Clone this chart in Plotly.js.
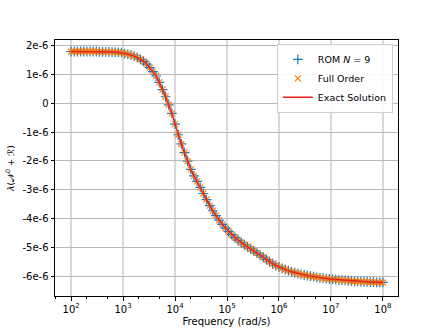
<!DOCTYPE html>
<html>
<head>
<meta charset="utf-8">
<script src="https://cdn.plot.ly/plotly-3.0.1.min.js"></script>
<style>
  html, body { margin: 0; padding: 0; background: #fff; }
  #chart { width: 443px; height: 332px; }
</style>
</head>
<body>
<div id="chart"></div>
<script>
// Frequency sweep, log10 of rad/s (100 samples, 10^2 .. 10^8)
const freqExponents = [
    2.000, 2.061, 2.121, 2.182, 2.242, 2.303, 2.364, 2.424, 2.485, 2.545,
    2.606, 2.667, 2.727, 2.788, 2.848, 2.909, 2.970, 3.030, 3.091, 3.152,
    3.212, 3.273, 3.333, 3.394, 3.455, 3.515, 3.576, 3.636, 3.697, 3.758,
    3.818, 3.879, 3.939, 4.000, 4.061, 4.121, 4.182, 4.242, 4.303, 4.364,
    4.424, 4.485, 4.545, 4.606, 4.667, 4.727, 4.788, 4.848, 4.909, 4.970,
    5.030, 5.091, 5.152, 5.212, 5.273, 5.333, 5.394, 5.455, 5.515, 5.576,
    5.636, 5.697, 5.758, 5.818, 5.879, 5.939, 6.000, 6.061, 6.121, 6.182,
    6.242, 6.303, 6.364, 6.424, 6.485, 6.545, 6.606, 6.667, 6.727, 6.788,
    6.848, 6.909, 6.970, 7.030, 7.091, 7.152, 7.212, 7.273, 7.333, 7.394,
    7.455, 7.515, 7.576, 7.636, 7.697, 7.758, 7.818, 7.879, 7.939, 8.000
];

// lambda(N0 + R), in units of 1e-6
const lambdaMicro = [
    1.80, 1.80, 1.80, 1.80, 1.80, 1.80, 1.80, 1.80, 1.80, 1.79,
    1.79, 1.79, 1.79, 1.78, 1.78, 1.77, 1.76, 1.73, 1.71, 1.68,
    1.64, 1.59, 1.53, 1.46, 1.36, 1.24, 1.10, 0.95, 0.73, 0.48,
    0.23, -0.05, -0.35, -0.72, -1.09, -1.41, -1.71, -2.01, -2.29, -2.52,
    -2.71, -2.92, -3.13, -3.34, -3.55, -3.73, -3.90, -4.06, -4.20, -4.33,
    -4.45, -4.56, -4.66, -4.75, -4.84, -4.91, -4.98, -5.05, -5.12, -5.20,
    -5.27, -5.34, -5.43, -5.50, -5.57, -5.63, -5.68, -5.73, -5.77, -5.81,
    -5.85, -5.88, -5.91, -5.94, -5.96, -5.98, -6.00, -6.02, -6.04, -6.06,
    -6.07, -6.09, -6.10, -6.11, -6.12, -6.13, -6.14, -6.15, -6.16, -6.17,
    -6.18, -6.185, -6.19, -6.195, -6.20, -6.205, -6.21, -6.215, -6.22, -6.22
];

const xTickVals = [1e2, 1e3, 1e4, 1e5, 1e6, 1e7, 1e8];
const xTickText = ['10<sup>2</sup>', '10<sup>3</sup>', '10<sup>4</sup>', '10<sup>5</sup>',
                   '10<sup>6</sup>', '10<sup>7</sup>', '10<sup>8</sup>'];
const yTickVals = [2e-6, 1e-6, 0, -1e-6, -2e-6, -3e-6, -4e-6, -5e-6, -6e-6];
const yTickText = ['2e-6', '1e-6', '0', '-1e-6', '-2e-6', '-3e-6', '-4e-6', '-5e-6', '-6e-6'];

const freq = freqExponents.map(e => Math.pow(10, e));
const lambdaVals = lambdaMicro.map(v => v * 1e-6);

const traces = [
    {
        x: freq, y: lambdaVals,
        name: 'ROM <i>N</i> = 9',
        type: 'scatter', mode: 'markers',
        marker: { symbol: 'cross-thin-open', size: 7, color: '#1f77b4', line: { width: 1.2, color: '#1f77b4' } }
    },
    {
        x: freq, y: lambdaVals,
        name: 'Full Order',
        type: 'scatter', mode: 'markers',
        marker: { symbol: 'x-thin-open', size: 6, color: '#ff7f0e', line: { width: 1.2, color: '#ff7f0e' } }
    },
    {
        x: freq, y: lambdaVals,
        name: 'Exact Solution',
        type: 'scatter', mode: 'lines',
        line: { color: '#e8231c', width: 1.5 }
    }
];

const layout = {
    width: 443,
    height: 332,
    margin: { l: 55, r: 45, t: 40, b: 36 },
    paper_bgcolor: '#fff',
    plot_bgcolor: '#fff',
    font: { family: 'DejaVu Sans, sans-serif', size: 10, color: '#000' },
    showlegend: true,
    legend: {
        x: 0.985, y: 0.985, xanchor: 'right', yanchor: 'top',
        bgcolor: 'rgba(255,255,255,0.9)',
        bordercolor: '#d0d0d0', borderwidth: 1,
        font: { size: 9.5 },
        itemwidth: 30,
        tracegroupgap: 0
    },
    xaxis: {
        type: 'log',
        range: [1.69, 8.29],
        tickvals: xTickVals,
        ticktext: xTickText,
        ticks: 'outside', ticklen: 3.5, tickcolor: '#000',
        minor: { ticks: 'outside', ticklen: 2, tickcolor: '#000', showgrid: false },
        showgrid: true, gridcolor: '#d9d9d9', gridwidth: 2,
        showline: true, linecolor: '#000', linewidth: 1, mirror: true,
        zeroline: false,
        title: { text: 'Frequency (rad/s)', font: { size: 10 }, standoff: 4 }
    },
    yaxis: {
        range: [-6.69e-6, 2.2e-6],
        tickvals: yTickVals,
        ticktext: yTickText,
        ticks: 'outside', ticklen: 3.5, tickcolor: '#000',
        showgrid: true, gridcolor: '#b8b8b8', gridwidth: 1,
        showline: true, linecolor: '#000', linewidth: 1, mirror: true,
        zeroline: false,
        title: { text: '<i>λ</i>(𝒩<sup>0</sup> + ℛ)', font: { size: 9 }, standoff: 6 }
    }
};

Plotly.newPlot('chart', traces, layout, { displayModeBar: false, staticPlot: true });
</script>
</body>
</html>
